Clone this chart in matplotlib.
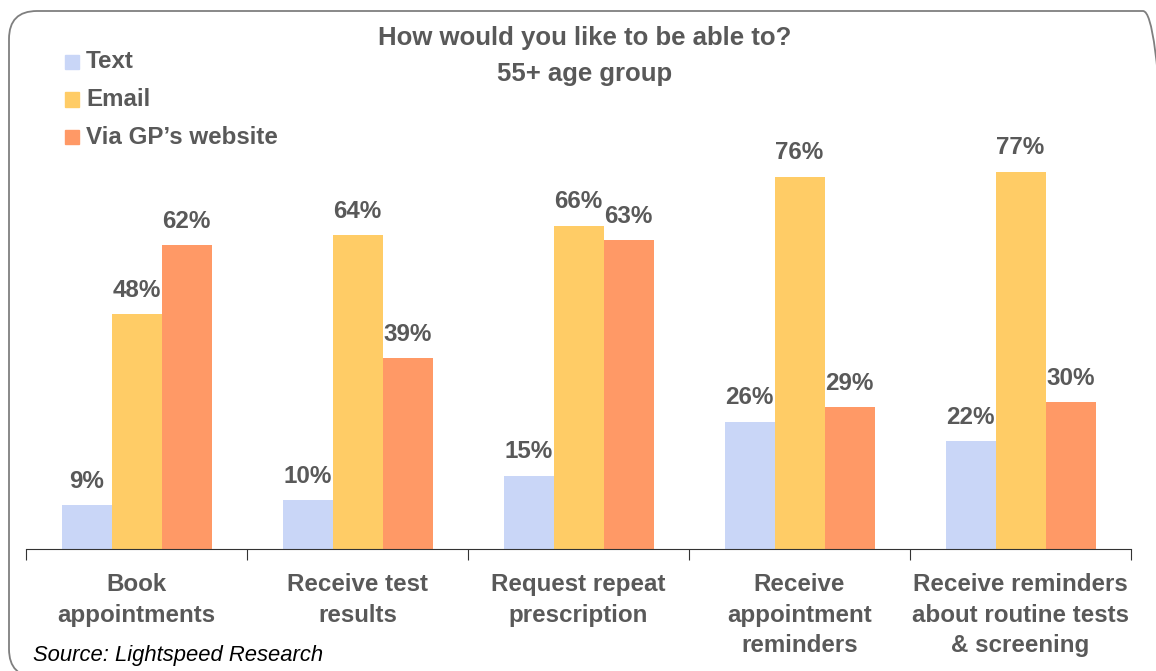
import numpy as np
import matplotlib.pyplot as plt
from matplotlib.patches import FancyBboxPatch, Rectangle

categories = ['Book\nappointments', 'Receive test\nresults', 'Request repeat\nprescription',
              'Receive\nappointment\nreminders', 'Receive reminders\nabout routine tests\n& screening']
series = ['Text', 'Email', 'Via GP\u2019s website']
text_vals = [9, 10, 15, 26, 22]
email_vals = [48, 64, 66, 76, 77]
web_vals = [62, 39, 63, 29, 30]
colors = ['#C9D6F7', '#FFCC66', '#FF9966']

plt.rcParams['font.family'] = ['Liberation Sans', 'DejaVu Sans']
grey = '#595959'

W, H = 1156, 671
fig = plt.figure(figsize=(W/100, H/100), dpi=100)

# rounded frame, drawn in pixel units
frame = FancyBboxPatch((9, -6), 1162, H - 11 + 6,
                       boxstyle='round,pad=0,rounding_size=28',
                       transform=None, fill=False, ec='#7f7f7f', lw=1.3)
fig.patches.append(frame)

ax_h = 441
ax = fig.add_axes([26/W, (H-549)/H, (1131-26)/W, ax_h/H])
x = np.arange(len(categories))
bw = 50/221
for i, (vals, c) in enumerate(zip([text_vals, email_vals, web_vals], colors)):
    bars = ax.bar(x + (i-1)*bw, vals, bw, color=c, label=series[i])
    for b, v in zip(bars, vals):
        ax.text(b.get_x() + b.get_width()/2, v + 2.5, f'{v}%', ha='center', va='bottom',
                fontsize=17.4, fontweight='bold', color=grey)

ax.set_xlim(-0.5, len(categories)-0.5)
ax.set_ylim(0, 90)
ax.set_yticks([])
for s in ['top', 'right', 'left']:
    ax.spines[s].set_visible(False)
ax.spines['bottom'].set_color('#333333')
ax.set_xticks(np.arange(len(categories)+1) - 0.5)
ax.set_xticklabels([])
ax.tick_params(axis='x', length=8, direction='out', color='#333333')
for xi, lab in zip(x, categories):
    ax.text(xi, -(573-549)/ax_h, lab, transform=ax.get_xaxis_transform(), ha='center', va='top',
            fontsize=17.4, fontweight='bold', color=grey, linespacing=1.42)

fig.text(585/W, 1-38/H, 'How would you like to be able to?', ha='center', va='center',
         fontsize=18.5, fontweight='bold', color=grey)
fig.text(585/W, 1-74/H, '55+ age group', ha='center', va='center',
         fontsize=18.5, fontweight='bold', color=grey)

# legend
for j, (lab, c) in enumerate(zip(series, colors)):
    yy = 1 - (62 + 37.5*j)/H
    fig.patches.append(Rectangle((65/W, yy - 7/H), 14/W, 14/H, transform=fig.transFigure, color=c))
    fig.text(86/W, yy, lab, ha='left', va='center', fontsize=17.4, fontweight='bold', color=grey)

fig.text(33/W, 1-655/H, 'Source: Lightspeed Research', ha='left', va='center', fontsize=15.8,
         fontstyle='italic', color='black')

fig.savefig('out.png', dpi=100)
